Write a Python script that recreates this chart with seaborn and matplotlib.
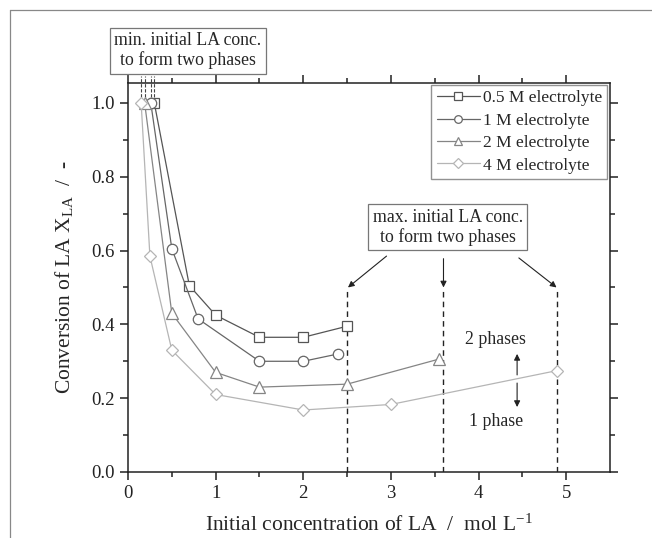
import numpy as np
import pandas as pd
import matplotlib
matplotlib.use("Agg")
import matplotlib.pyplot as plt
from matplotlib.lines import Line2D
import seaborn as sns

# ---------------- data ----------------
series_names = ["0.5 M electrolyte", "1 M electrolyte", "2 M electrolyte", "4 M electrolyte"]
x_05 = [0.30, 0.70, 1.0, 1.5, 2.0, 2.5]
y_05 = [1.0, 0.505, 0.425, 0.365, 0.365, 0.395]
x_1 = [0.26, 0.5, 0.8, 1.5, 2.0, 2.4]
y_1 = [1.0, 0.605, 0.415, 0.30, 0.30, 0.32]
x_2 = [0.19, 0.5, 1.0, 1.5, 2.5, 3.55]
y_2 = [1.0, 0.43, 0.27, 0.23, 0.238, 0.306]
x_4 = [0.15, 0.25, 0.5, 1.0, 2.0, 3.0, 4.9]
y_4 = [1.0, 0.585, 0.33, 0.21, 0.168, 0.183, 0.275]

min_conc = [0.15, 0.19, 0.26, 0.30]
max_conc = [2.5, 3.6, 4.9]

markers = ["s", "o", "^", "D"]
colors = ["#555555", "#666666", "#858585", "#b5b5b5"]
msizes = [6.5, 7.5, 8, 6.5]

xs = [x_05, x_1, x_2, x_4]
ys = [y_05, y_1, y_2, y_4]

# ---------------- style ----------------
sns.set_style("ticks")
plt.rcParams["font.family"] = ["Liberation Serif", "DejaVu Serif"]
plt.rcParams["mathtext.fontset"] = "custom"
plt.rcParams["mathtext.rm"] = "Liberation Serif"
plt.rcParams["mathtext.it"] = "Liberation Serif:italic"
plt.rcParams["axes.linewidth"] = 1.1

fig = plt.figure(figsize=(6.52, 5.38), dpi=100)
ax = fig.add_axes([128 / 652, 1 - 472 / 538, (610 - 128) / 652, (472 - 83) / 538])

for name, xv, yv, m, c, ms in zip(series_names, xs, ys, markers, colors, msizes):
    df = pd.DataFrame({"x": xv, "y": yv})
    sns.lineplot(data=df, x="x", y="y", ax=ax, color=c, lw=0.9, marker=m,
                 markersize=ms, markerfacecolor="white", markeredgecolor=c,
                 markeredgewidth=0.9, label=name, sort=False, zorder=3)

ax.set_xlim(0, 5.5)
ax.set_ylim(0, 1.054)
ax.set_xticks([0, 1, 2, 3, 4, 5])
ax.set_xticks(np.arange(0.5, 5.5, 1.0), minor=True)
ax.set_yticks([0.0, 0.2, 0.4, 0.6, 0.8, 1.0])
ax.set_yticks([0.1, 0.3, 0.5, 0.7, 0.9], minor=True)
ax.set_yticklabels(["0.0", "0.2", "0.4", "0.6", "0.8", "1.0"])
ax.tick_params(which="both", direction="out", top=True, right=True,
               labeltop=False, labelright=False, width=1.1, colors="#222222",
               labelsize=13.5)
ax.tick_params(which="major", length=6)
ax.tick_params(which="minor", length=3.5)
for s in ax.spines.values():
    s.set_color("#222222")

ax.set_xlabel("Initial concentration of LA  /  mol L$^\\mathrm{-1}$", fontsize=15.5, labelpad=9)
ax.set_ylabel("Conversion of LA X$_\\mathrm{LA}$  /  -", fontsize=15.5, labelpad=12)

# vertical dashed lines (max conc)
for xc in max_conc:
    ax.plot([xc, xc], [0, 0.497], color="#222222", lw=1.0, ls=(0, (4, 3)), zorder=2)
# short dashed lines (min conc)
for xc in min_conc:
    ax.plot([xc, xc], [1.016, 1.073], color="#444444", lw=0.8, ls=(0, (3, 1.5)),
            clip_on=False, zorder=2)

# annotation boxes
box = dict(boxstyle="square,pad=0.25", fc="white", ec="#777777", lw=0.9)
ax.text(0.685, 1.141, "min. initial LA conc.\nto form two phases", ha="center",
        va="center", fontsize=12.8, bbox=box, clip_on=False, linespacing=1.15)
ax.text(3.65, 0.663, "max. initial LA conc.\nto form two phases", ha="center",
        va="center", fontsize=12.8, bbox=box, linespacing=1.15, zorder=4)

ap = dict(arrowstyle="-|>", color="#222222", lw=0.8, mutation_scale=9, shrinkA=0, shrinkB=0)
ax.annotate("", xy=(2.51, 0.50), xytext=(2.95, 0.585), arrowprops=ap)
ax.annotate("", xy=(3.6, 0.50), xytext=(3.6, 0.578), arrowprops=ap)
ax.annotate("", xy=(4.89, 0.50), xytext=(4.46, 0.58), arrowprops=ap)

ax.text(4.19, 0.358, "2 phases", ha="center", va="center", fontsize=12.8)
ax.text(4.2, 0.136, "1 phase", ha="center", va="center", fontsize=12.8)
ax.annotate("", xy=(4.44, 0.32), xytext=(4.44, 0.263), arrowprops=ap)
ax.annotate("", xy=(4.44, 0.176), xytext=(4.44, 0.241), arrowprops=ap)

leg = ax.legend(loc="upper right", bbox_to_anchor=(0.994, 0.995), borderaxespad=0,
                fontsize=12.5, frameon=True, fancybox=False, handlelength=2.5,
                handletextpad=0.15, labelspacing=0.36, borderpad=0.3,
                edgecolor="#777777")
leg.get_frame().set_linewidth(1.0)
for h in leg.legend_handles:
    h.set_markersize(5.5)

# figure border (top and left)
fig.add_artist(Line2D([10 / 652, 1.0], [1 - 10 / 538, 1 - 10 / 538],
                      transform=fig.transFigure, color="#888888", lw=0.9))
fig.add_artist(Line2D([10 / 652, 10 / 652], [0.0, 1 - 10 / 538],
                      transform=fig.transFigure, color="#888888", lw=0.9))

fig.savefig("out.png", dpi=100)
